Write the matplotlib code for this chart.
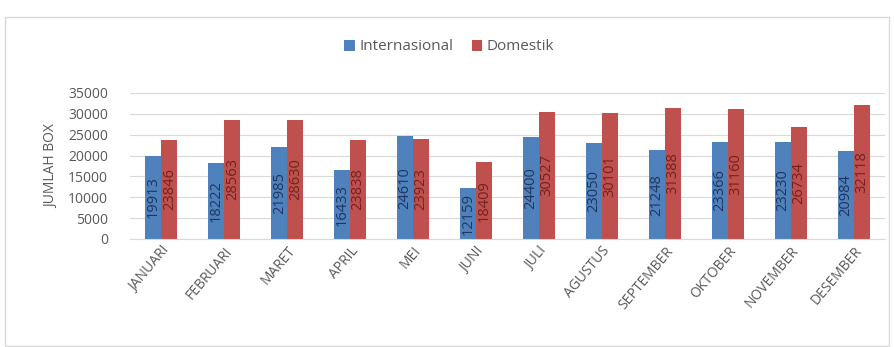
import numpy as np
import matplotlib.pyplot as plt
from matplotlib.patches import Rectangle

bulan = ['JANUARI', 'FEBRUARI', 'MARET', 'APRIL', 'MEI', 'JUNI', 'JULI',
         'AGUSTUS', 'SEPTEMBER', 'OKTOBER', 'NOVEMBER', 'DESEMBER']
internasional = [19913, 18222, 21985, 16433, 24610, 12159, 24400, 23050, 21248, 23366, 23230, 20984]
domestik = [23846, 28563, 28630, 23838, 23923, 18409, 30527, 30101, 31388, 31160, 26734, 32118]

plt.rcParams['font.family'] = ['Open Sans', 'DejaVu Sans']

fig = plt.figure(figsize=(8.95, 3.47), dpi=100)
# chart border
fig.patches.append(Rectangle((5/895, 0.002), 884/895, 1 - 17/347 - 0.002,
                             transform=fig.transFigure, fill=False,
                             edgecolor='#d9d9d9', linewidth=1.0))

ax = fig.add_axes([130/895, 1 - 239/347, 755/895, 146/347])

x = np.arange(len(bulan))
w = 0.254
b1 = ax.bar(x - w/2, internasional, w, color='#4f81bd', label='Internasional', zorder=2)
b2 = ax.bar(x + w/2, domestik, w, color='#c0504d', label='Domestik', zorder=2)

for rect, v in zip(b1, internasional):
    ax.text(rect.get_x() + rect.get_width()/2, v/2, str(v), rotation=90,
            ha='center', va='center', fontsize=10.5, color='#1f3560', zorder=3)
for rect, v in zip(b2, domestik):
    ax.text(rect.get_x() + rect.get_width()/2, v/2, str(v), rotation=90,
            ha='center', va='center', fontsize=10.5, color='#722220', zorder=3)

ax.set_xlim(-0.5, len(bulan) - 0.5)
ax.set_ylim(0, 35000)
ax.set_yticks(np.arange(0, 35001, 5000))
ax.yaxis.grid(True, color='#d9d9d9', linewidth=0.8, zorder=0)
for s in ['top', 'right', 'left']:
    ax.spines[s].set_visible(False)
ax.spines['bottom'].set_color('#d9d9d9')
ax.tick_params(axis='both', length=0, colors='#595959', labelsize=10)
ax.tick_params(axis='y', pad=16)
ax.set_xticks(x)
ax.set_xticklabels(bulan, rotation=50, ha='right', rotation_mode='anchor')
ax.set_ylabel('JUMLAH BOX', color='#595959', fontsize=10, labelpad=6)

fig.legend(loc='center', bbox_to_anchor=(0.502, 1 - 47/347), ncol=2, frameon=False,
           fontsize=11, handlelength=0.7, handleheight=0.7, handletextpad=0.3,
           columnspacing=1.2, labelcolor='#595959')

fig.savefig('out.png', dpi=100)
